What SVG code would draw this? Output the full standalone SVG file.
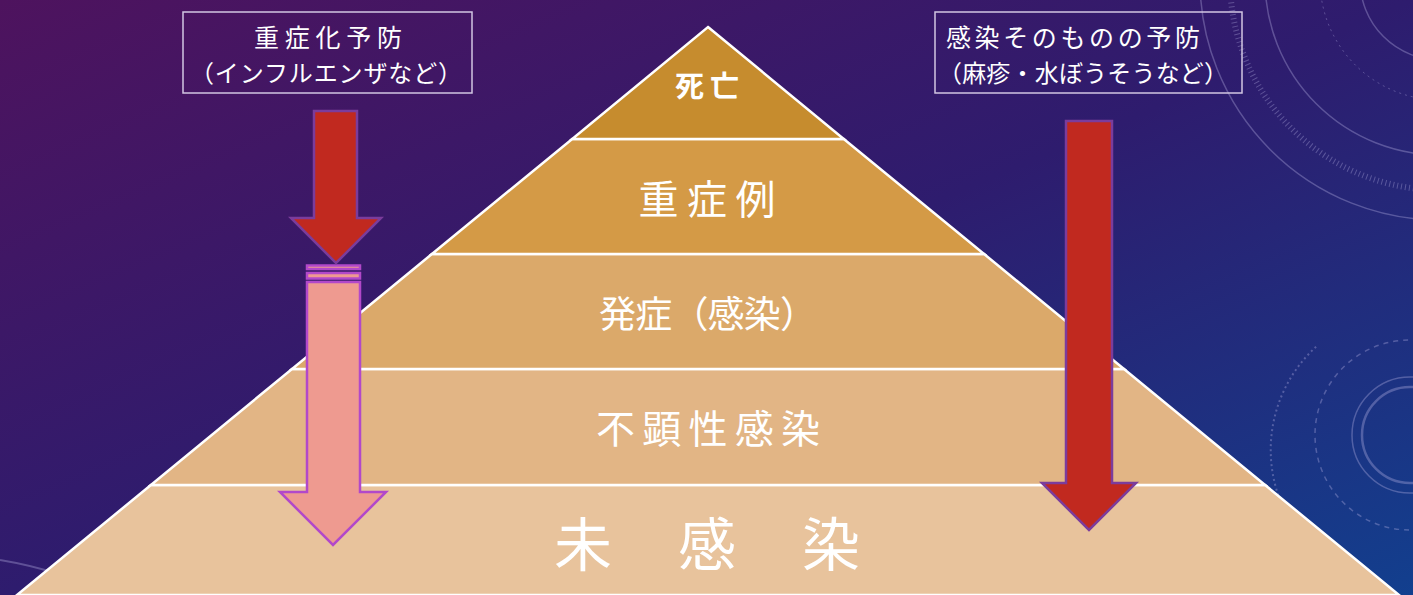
<svg xmlns="http://www.w3.org/2000/svg" width="1413" height="595" viewBox="0 0 1413 595">
  <defs>
    <linearGradient id="bg" x1="0" y1="0" x2="1" y2="1">
      <stop offset="0" stop-color="#4E135E"/>
      <stop offset="0.5" stop-color="#2E1C6E"/>
      <stop offset="1" stop-color="#123F8E"/>
    </linearGradient>
    <style>
      .layer { stroke: #FFFFFF; stroke-width: 2.5; stroke-linejoin: miter; }
      .lbl { fill: #FFFFFF; font-family: "Noto Sans CJK JP", "Noto Sans", sans-serif; }
      .box { fill: none; stroke: #D2C6E2; stroke-width: 1.5; }
      .dark { fill: #C1291F; stroke: #7B3C9C; stroke-width: 2.5; stroke-linejoin: miter; }
      .light { fill: #EE9A90; stroke: #B248CA; stroke-width: 2.5; stroke-linejoin: miter; }
      .deco { fill: none; stroke: #B9B4E6; stroke-opacity: 0.35; }
    </style>
  </defs>
  <rect x="0" y="0" width="1413" height="595" fill="url(#bg)"/>

  <g id="decoration">
    <circle class="deco" cx="1440" cy="-20" r="240" stroke-width="1.5"/>
    <circle class="deco" cx="1440" cy="-20" r="210" stroke-width="6" stroke-dasharray="1 3" stroke-opacity="0.2"/>
    <circle class="deco" cx="1440" cy="-20" r="175" stroke-width="1.5"/>
    <circle class="deco" cx="1440" cy="-20" r="120" stroke-width="1" stroke-dasharray="2 4"/>
    <circle class="deco" cx="1440" cy="-20" r="80" stroke-width="1.5"/>
    <circle class="deco" cx="1410" cy="435" r="48" stroke-width="2.5"/>
    <circle class="deco" cx="1410" cy="435" r="58" stroke-width="1.5"/>
    <circle class="deco" cx="1410" cy="435" r="95" stroke-width="1.5" stroke-dasharray="5 5"/>
    <path class="deco" d="M1280,500 A140,140 0 0 1 1318,345" stroke-width="2" stroke-dasharray="2 3"/>
    <path class="deco" d="M0,560 Q60,570 110,595" stroke-width="2"/>
  </g>

  <g id="layer-mikansen">
    <polygon class="layer" points="150.9,485 1265.1,485 1399,595 17,595" fill="#E8C39C"/>
    <text class="lbl" x="707" y="566" font-size="58" text-anchor="middle" textLength="306" lengthAdjust="spacing">未 感 染</text>
  </g>
  <g id="layer-fukensei">
    <polygon class="layer" points="292,369 1124,369 1265.1,485 150.9,485" fill="#E2B585"/>
    <text class="lbl" x="708" y="443" font-size="39" text-anchor="middle" textLength="224" lengthAdjust="spacing">不顕性感染</text>
  </g>
  <g id="layer-hassho">
    <polygon class="layer" points="431.9,254 984.1,254 1124,369 292,369" fill="#DBA96A"/>
    <text class="lbl" x="708" y="328" font-size="37" text-anchor="middle" textLength="218" lengthAdjust="spacing">発症（感染）</text>
  </g>
  <g id="layer-jusho">
    <polygon class="layer" points="572.2,139 843.8,139 984.1,254 431.9,254" fill="#D49A46"/>
    <text class="lbl" x="707" y="214" font-size="40" text-anchor="middle" textLength="137" lengthAdjust="spacing">重症例</text>
  </g>
  <g id="layer-shibo">
    <polygon class="layer" points="708,27 843.8,139 572.2,139" fill="#C68C2E"/>
    <text class="lbl" x="707" y="97" font-size="29" font-weight="bold" text-anchor="middle" textLength="64" lengthAdjust="spacing">死亡</text>
  </g>

  <g id="connectors">
    <rect class="light" x="307" y="265.5" width="53" height="3.5" stroke-width="2"/>
    <rect class="light" x="307" y="273" width="53" height="5.5" stroke-width="2"/>
    <path class="light" d="M307,282 L360,282 L360,492 L386,492 L333,545 L280,492 L307,492 Z"/>
    <path class="dark" d="M314,111 L357,111 L357,218 L381,218 L336,263 L291,218 L314,218 Z"/>
    <path class="dark" d="M1066,121 L1112,121 L1112,483 L1136,483 L1089,530 L1042,483 L1066,483 Z"/>
  </g>

  <g id="label-left">
    <rect class="box" x="183" y="12" width="289" height="81"/>
    <text class="lbl" x="328" y="47" font-size="25" text-anchor="middle" textLength="148" lengthAdjust="spacing">重症化予防</text>
    <text class="lbl" x="326" y="82" font-size="24" text-anchor="middle" textLength="272" lengthAdjust="spacing">（インフルエンザなど）</text>
  </g>
  <g id="label-right">
    <rect class="box" x="935" y="12" width="307" height="81"/>
    <text class="lbl" x="946" y="47" font-size="25" textLength="254" lengthAdjust="spacing">感染そのものの予防</text>
    <text class="lbl" x="938" y="82" font-size="24" textLength="290" lengthAdjust="spacing">（麻疹・水ぼうそうなど）</text>
  </g>
</svg>
